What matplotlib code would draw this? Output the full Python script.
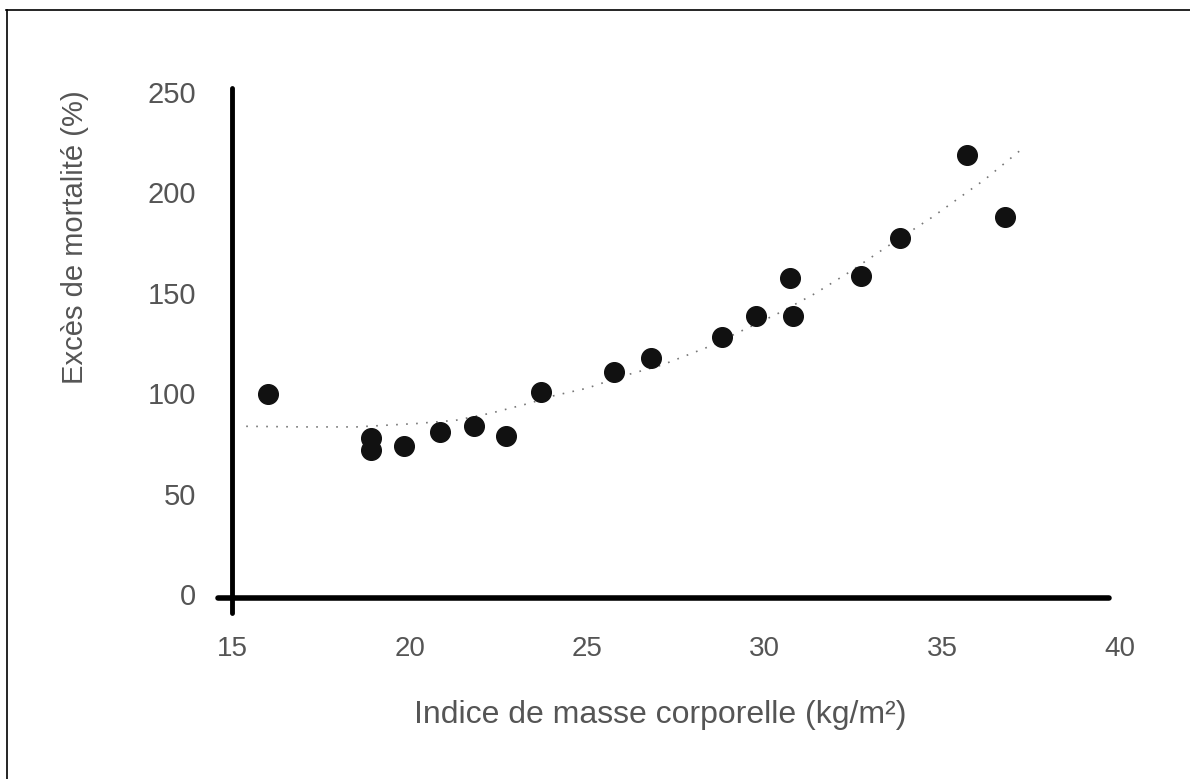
import matplotlib
matplotlib.use("Agg")
import matplotlib.pyplot as plt
from matplotlib.lines import Line2D

# Données
imc = [16.0, 18.9, 18.9, 19.85, 20.85, 21.8, 22.7, 23.7, 25.75, 26.8, 28.8, 29.75,
       30.7, 30.8, 32.7, 33.8, 35.7, 36.75]
exces = [101, 79, 73, 75, 82, 85, 80, 102, 112, 119, 129.5, 140, 159, 140, 160, 179, 220, 189]

# courbe de tendance
courbe_x = [15.4, 17, 18.5, 20.2, 21.3, 22.3, 23.4, 24, 25, 26, 27.1, 28.4, 29.4,
            30.35, 31.4, 32.4, 33.4, 34.7, 36.2, 37.3]
courbe_y = [85, 84.7, 84.7, 86.4, 88, 91.6, 96.6, 100, 104, 110, 115.5, 124.5, 133,
            141, 151, 162, 174, 189, 208, 224]

xticks = [15, 20, 25, 30, 35, 40]
yticks = [0, 50, 100, 150, 200, 250]

W, H = 1190, 779
fig = plt.figure(figsize=(W / 100, H / 100), dpi=100)
fig.patch.set_facecolor("white")

# position des axes en pixels
x0, x1 = 232, 1120
y0, y1 = 597, 95
ax = fig.add_axes([x0 / W, 1 - y0 / H, (x1 - x0) / W, (y0 - y1) / H])
ax.set_xlim(15, 40)
ax.set_ylim(0, 250)
for s in ax.spines.values():
    s.set_visible(False)
ax.set_xticks([])
ax.set_yticks([])
ax.patch.set_alpha(0)

# axes épais
ax.plot([15, 15], [-8, 253.5], color="black", lw=3.5, clip_on=False, solid_capstyle="round")
ax.plot([14.6, 39.7], [-0.5, -0.5], color="black", lw=4, clip_on=False, solid_capstyle="round")

# courbe en pointillés
ax.plot(courbe_x, courbe_y, color="#777777", lw=1.2, linestyle=(0, (1, 5)), clip_on=False)

# points
ax.scatter(imc, exces, s=200, color="#111111", zorder=3, clip_on=False)

txt = dict(color="#555555", family=["Liberation Sans", "DejaVu Sans"])
for t in xticks:
    ax.text(t, -26, str(t), ha="center", va="center", fontsize=20, **txt)
for t in yticks:
    ax.text(14.0, t, str(t), ha="right", va="center", fontsize=21, **txt)

fig.text(660 / W, 1 - 715 / H, "Indice de masse corporelle (kg/m²)",
         ha="center", va="center", fontsize=23, **txt)
fig.text(75 / W, 1 - 237 / H, "Excès de mortalité (%)", rotation=90,
         ha="center", va="center", fontsize=21, **txt)

# cadre du scan (haut et gauche)
fig.add_artist(Line2D([6 / W, 1], [1 - 10 / H, 1 - 10 / H], color="black", lw=1.2))
fig.add_artist(Line2D([7 / W, 7 / W], [0, 1 - 10 / H], color="black", lw=1.2))

fig.savefig("out.png", dpi=100, facecolor="white")
